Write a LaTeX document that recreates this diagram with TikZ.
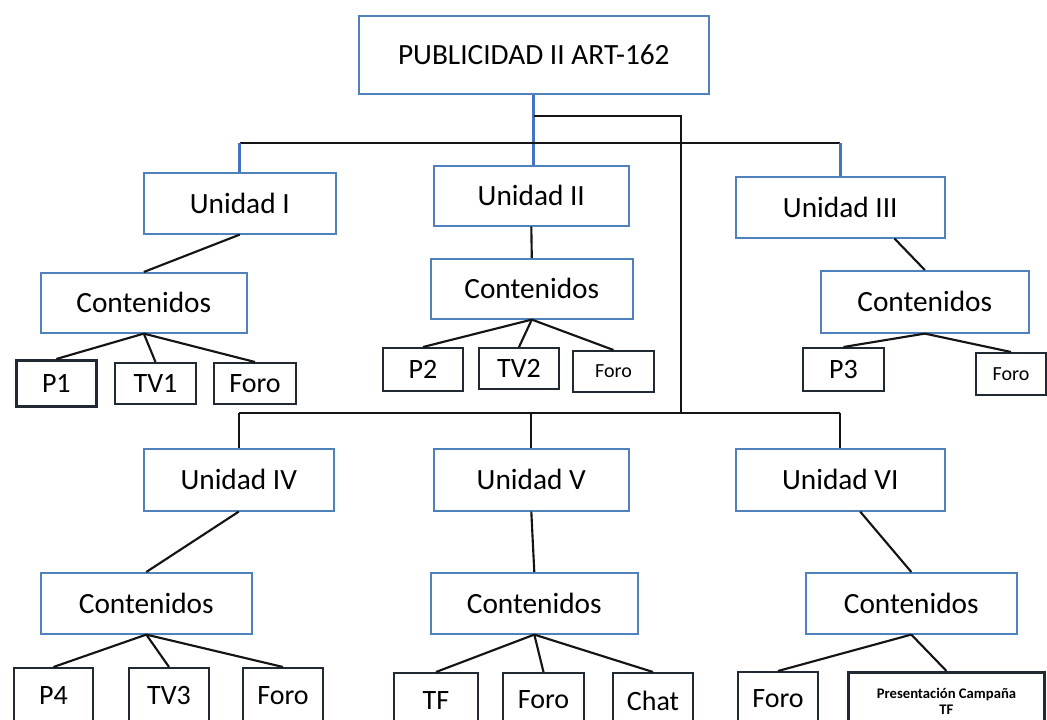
\documentclass[tikz,border=0pt]{standalone}
\usepackage{fontspec}
\setmainfont{Carlito}
\usepackage{tikz}
\tikzset{every picture/.style={line width=0.75pt}}

\begin{document}
\begin{tikzpicture}[x=0.75pt,y=0.75pt,yscale=-1,xscale=1,
  bluebox/.style={draw={rgb, 255:red, 79; green, 129; blue, 189 },line width=1.2pt,anchor=north west,inner sep=0pt,font=\fontsize{22}{26}\selectfont},
  leafbox/.style={draw={rgb, 255:red, 33; green, 41; blue, 51 },line width=1.5pt,anchor=north west,inner sep=0pt,font=\fontsize{21}{25}\selectfont},
  link/.style={draw={rgb, 255:red, 20; green, 20; blue, 20 },line width=1.6pt},
  bluelink/.style={draw={rgb, 255:red, 68; green, 114; blue, 196 },line width=2pt}]
\useasboundingbox (0,0) rectangle (1047,720);
\clip (0,0) rectangle (1047,720);

% Text Node
\draw (358,15) node [bluebox, minimum width=262.5pt, minimum height=58.5pt] (title) {PUBLICIDAD II ART-162};
% Text Node
\draw (143,172) node [bluebox, minimum width=144pt, minimum height=45.75pt] (u1) {Unidad I};
% Text Node
\draw (433,165) node [bluebox, minimum width=146.25pt, minimum height=45pt] (u2) {Unidad II};
% Text Node
\draw (735,176) node [bluebox, minimum width=156.75pt, minimum height=45.75pt] (u3) {Unidad III};
% Text Node
\draw (40,272) node [bluebox, minimum width=154.5pt, minimum height=45pt] (c1) {Contenidos};
% Text Node
\draw (430,258) node [bluebox, minimum width=151.5pt, minimum height=45pt] (c2) {Contenidos};
% Text Node
\draw (820,270) node [bluebox, minimum width=156pt, minimum height=46.5pt] (c3) {Contenidos};
% Text Node
\draw (15,359) node [leafbox, minimum width=60pt, minimum height=34.5pt, line width=2pt] (p1) {P1};
% Text Node
\draw (114,362) node [leafbox, minimum width=60.75pt, minimum height=30.75pt] (tv1) {TV1};
% Text Node
\draw (213,362) node [leafbox, minimum width=61.5pt, minimum height=30.75pt] (foroa) {Foro};
% Text Node
\draw (382,347) node [leafbox, minimum width=60pt, minimum height=32.25pt] (p2) {P2};
% Text Node
\draw (478,347) node [leafbox, minimum width=60pt, minimum height=30.75pt] (tv2) {TV2};
% Text Node
\draw (572,350) node [leafbox, minimum width=60.75pt, minimum height=30.75pt, font=\fontsize{15}{18}\selectfont] (forob) {Foro};
% Text Node
\draw (802,347) node [leafbox, minimum width=60.75pt, minimum height=32.25pt] (p3) {P3};
% Text Node
\draw (975,352) node [leafbox, minimum width=52.5pt, minimum height=31.5pt, font=\fontsize{15}{18}\selectfont] (foroc) {Foro};

% Text Node
\draw (143,448) node [bluebox, minimum width=142.5pt, minimum height=46.5pt] (u4) {Unidad IV};
% Text Node
\draw (433,448) node [bluebox, minimum width=146.25pt, minimum height=46.5pt] (u5) {Unidad V};
% Text Node
\draw (735,448) node [bluebox, minimum width=156.75pt, minimum height=46.5pt] (u6) {Unidad VI};
% Text Node
\draw (40,572) node [bluebox, minimum width=158.25pt, minimum height=45.75pt] (c4) {Contenidos};
% Text Node
\draw (430,572) node [bluebox, minimum width=155.25pt, minimum height=45.75pt] (c5) {Contenidos};
% Text Node
\draw (805,572) node [bluebox, minimum width=158.25pt, minimum height=45.75pt] (c6) {Contenidos};
% Text Node
\draw (13,667) node [leafbox, minimum width=59.25pt, minimum height=42pt] (p4) {P4};
% Text Node
\draw (128,667) node [leafbox, minimum width=60pt, minimum height=42pt] (tv3) {TV3};
% Text Node
\draw (242,667) node [leafbox, minimum width=60pt, minimum height=42pt] (forod) {Foro};
% Text Node
\draw (393,672) node [leafbox, minimum width=63pt, minimum height=42pt] (tf) {TF};
% Text Node
\draw (502,672) node [leafbox, minimum width=60.75pt, minimum height=40pt] (forof) {Foro};
% Text Node
\draw (612,672) node [leafbox, minimum width=60pt, minimum height=42pt] (chat) {Chat};
% Text Node
\draw (737,671) node [leafbox, minimum width=60pt, minimum height=40pt] (forog) {Foro};
% Text Node
\draw (847,671) node [leafbox, minimum width=147pt, minimum height=43.5pt, line width=2.2pt, align=center, font=\fontsize{11}{12}\selectfont\bfseries] (pres) {Presentación Campaña\\TF};

\coordinate (top bar) at (533,143);
\coordinate (bend) at (681,116);
\coordinate (low bar) at (681,413);

%Straight Lines
\draw [bluelink] (title.south) -- (title.south |- u2.north);
%Straight Lines
\draw [link] (u1.north |- top bar) -- (u3.north |- top bar);
%Straight Lines
\draw [bluelink] (u1.north |- top bar) -- (u1.north);
%Straight Lines
\draw [bluelink] (u3.north |- top bar) -- (u3.north);
%Straight Lines
\draw [link] (title.south |- bend) -- (bend) -- (low bar);
%Straight Lines
\draw [link] (u4.north |- low bar) -- (u6.north |- low bar);
\draw [link] (u4.north |- low bar) -- (u4.north);
\draw [link] (u5.north |- low bar) -- (u5.north);
\draw [link] (u6.north |- low bar) -- (u6.north);

%Straight Lines
\draw [link] (u1.south) -- (c1.north);
\draw [link] (u2.south) -- (c2.north);
\draw [link] (u3.-30) -- (c3.north);
\draw [link] (u4.south) -- (c4.north);
\draw [link] (u5.south) -- (c5.north);
\draw [link] (u6.-58) -- (c6.north);

%Straight Lines
\draw [link] (c1.south) -- (p1.north);
\draw [link] (c1.south) -- (tv1.north);
\draw [link] (c1.south) -- (foroa.north);
\draw [link] (c2.south) -- (p2.north);
\draw [link] (c2.south) -- (tv2.north);
\draw [link] (c2.south) -- (forob.north);
\draw [link] (c3.south) -- (p3.north);
\draw [link] (c3.south) -- (foroc.north);
\draw [link] (c4.south) -- (p4.north);
\draw [link] (c4.south) -- (tv3.north);
\draw [link] (c4.south) -- (forod.north);
\draw [link] (c5.south) -- (tf.north);
\draw [link] (c5.south) -- (forof.north);
\draw [link] (c5.south) -- (chat.north);
\draw [link] (c6.south) -- (forog.north);
\draw [link] (c6.south) -- (pres.north);

\end{tikzpicture}
\end{document}
